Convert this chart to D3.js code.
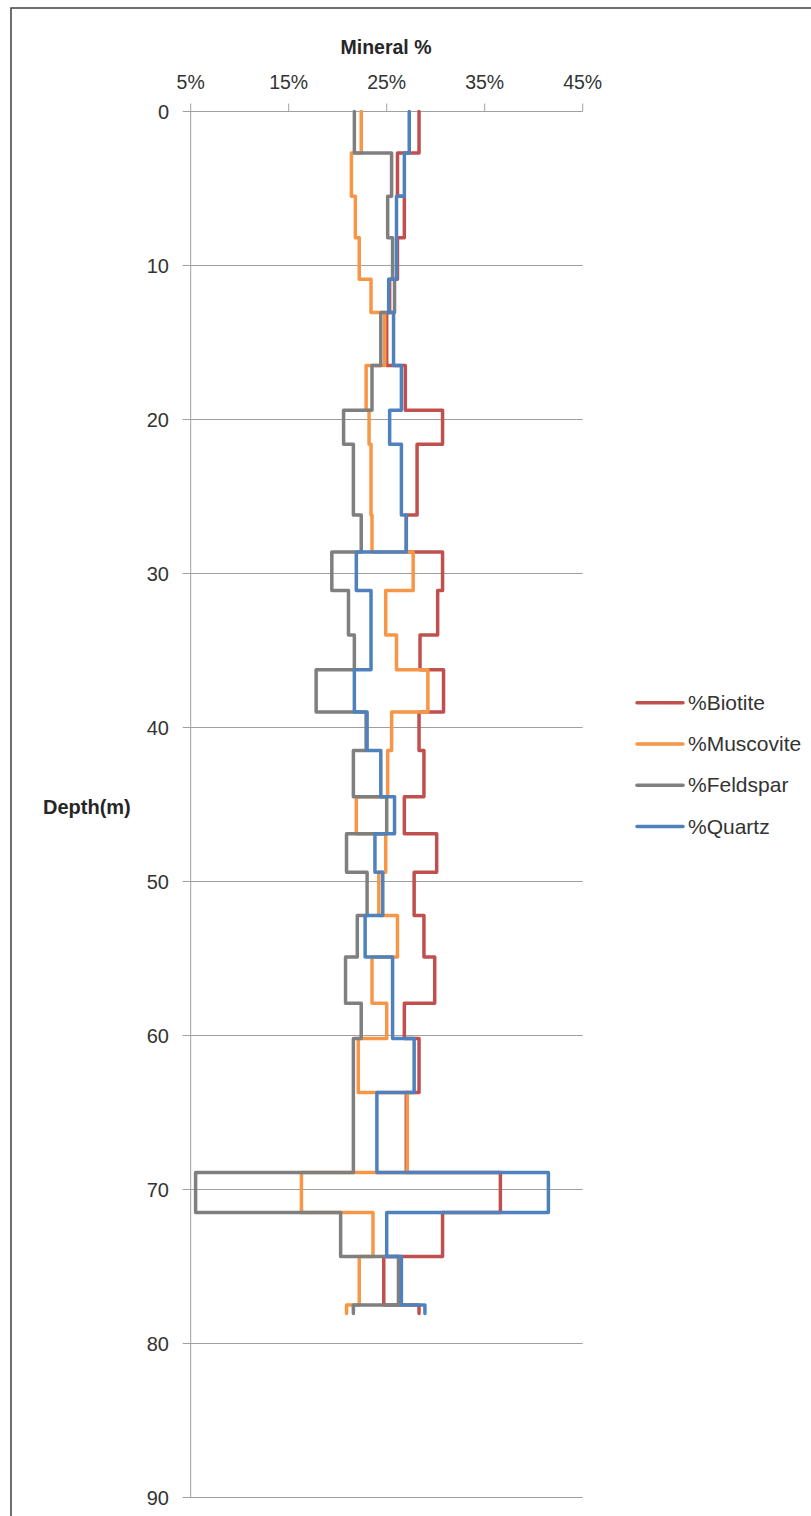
<!DOCTYPE html>
<meta charset="utf-8">
<style>
body { margin: 0; background: #fff; }
text { font-family: "Liberation Sans", Arial, sans-serif; fill: #333; }
.grid line { stroke: #a0a0a0; stroke-width: 1; }
.series path { fill: none; stroke-width: 3.5px; stroke-linejoin: round; stroke-linecap: round; }
</style>
<body>
<svg width="811" height="1516"></svg>
<script src="https://d3js.org/d3.v7.min.js"></script>
<script>

// depth boundaries (m) of each sample interval
var depths = [0, 2.7, 5.5, 8.2, 10.9, 13.05, 16.5, 19.4, 21.6, 26.2, 28.6, 31.1, 34.0, 36.25,
  39.0, 41.5, 44.5, 46.9, 49.4, 52.2, 54.9, 57.9, 60.2, 63.7, 68.9, 71.5, 74.35, 77.5, 78.05];

// % of each mineral in each interval
var biotite = [28.3, 26.1, 26.8, 26.1, 25.3, 25.0, 26.9, 30.7, 28.1, 27.0, 30.7, 30.2, 28.4, 30.8,
  28.3, 28.8, 26.8, 30.1, 27.8, 28.8, 29.9, 26.8, 28.3, 27.0, 36.6, 30.7, 24.7, 28.3];
var muscovite = [22.4, 21.4, 21.8, 22.2, 23.4, 24.8, 22.9, 23.2, 23.4, 23.5, 27.7, 24.9, 26.0, 29.2,
  25.5, 25.1, 21.9, 24.9, 24.2, 26.1, 23.5, 25.0, 22.1, 27.1, 16.3, 23.6, 22.2, 20.9];
var feldspar = [21.7, 25.5, 25.1, 25.6, 25.8, 24.4, 23.5, 20.6, 21.6, 22.4, 19.4, 21.1, 21.7, 17.8,
  22.9, 21.6, 25.0, 20.9, 23.0, 22.0, 20.8, 22.4, 21.6, 21.6, 5.5, 20.3, 26.2, 21.6];
var quartz = [27.3, 26.8, 26.0, 26.0, 25.2, 25.7, 26.5, 25.3, 26.5, 27.0, 21.9, 23.4, 23.4, 21.7,
  23.0, 24.4, 25.8, 23.8, 24.6, 22.8, 25.6, 25.6, 27.8, 24.0, 41.5, 25.0, 26.5, 28.9];

var names = ["%Biotite", "%Muscovite", "%Feldspar", "%Quartz"];
var colors = ["#c0504d", "#f79646", "#7f7f7f", "#4f81bd"];
var xTicks = [5, 15, 25, 35, 45];
var yTicks = [0, 10, 20, 30, 40, 50, 60, 70, 80, 90];

var svg = d3.select("svg");

// chart frame
svg.append("rect")
    .attr("x", 11).attr("y", 8)
    .attr("width", 830).attr("height", 1530)
    .attr("fill", "none")
    .attr("stroke", "#404040")
    .attr("stroke-width", 1.5);

var x = d3.scaleLinear().domain([5, 45]).range([190.7, 582.7]);
var y = d3.scaleLinear().domain([0, 90]).range([111.5, 1497.5]);

// horizontal gridlines (they stick out left of the axis like ticks)
var grid = svg.append("g").attr("class", "grid");
grid.selectAll("line.h")
    .data(yTicks)
    .enter().append("line")
    .attr("x1", x(5) - 8).attr("x2", x(45))
    .attr("y1", function(d) { return y(d); })
    .attr("y2", function(d) { return y(d); });

// left axis line
grid.append("line")
    .attr("x1", x(5)).attr("x2", x(5))
    .attr("y1", y(0)).attr("y2", y(90));

// top ticks
grid.selectAll("line.t")
    .data(xTicks)
    .enter().append("line")
    .attr("x1", function(d) { return x(d); })
    .attr("x2", function(d) { return x(d); })
    .attr("y1", y(0) - 8).attr("y2", y(0));

svg.selectAll("text.xt")
    .data(xTicks)
    .enter().append("text")
    .attr("x", function(d) { return x(d); })
    .attr("y", 89)
    .attr("text-anchor", "middle")
    .style("font-size", "19.5px")
    .text(function(d) { return d + "%"; });

svg.selectAll("text.yt")
    .data(yTicks)
    .enter().append("text")
    .attr("x", 169)
    .attr("y", function(d) { return y(d) + 7; })
    .attr("text-anchor", "end")
    .style("font-size", "20px")
    .text(function(d) { return d; });

svg.append("text")
    .attr("x", 386).attr("y", 54)
    .attr("text-anchor", "middle")
    .style("font-size", "19.5px")
    .style("font-weight", "bold")
    .style("fill", "#262626")
    .text("Mineral %");

svg.append("text")
    .attr("x", 43).attr("y", 814)
    .style("font-size", "20px")
    .style("font-weight", "bold")
    .style("fill", "#262626")
    .text("Depth(m)");

// build step points: each value held over its depth interval
function steps(vals) {
  var pts = [];
  vals.forEach(function(v, i) {
    pts.push([v, depths[i]]);
    pts.push([v, depths[i + 1]]);
  });
  return pts;
}

var line = d3.line()
    .x(function(d) { return x(d[0]); })
    .y(function(d) { return y(d[1]); });

var series = [biotite, muscovite, feldspar, quartz];

svg.append("g").attr("class", "series")
  .selectAll("path")
  .data(series)
  .enter().append("path")
    .attr("stroke", function(d, i) { return colors[i]; })
    .attr("d", function(d) { return line(steps(d)); });

// legend
var legend = svg.append("g")
  .selectAll("g")
  .data(names)
  .enter().append("g")
    .attr("transform", function(d, i) { return "translate(637," + (702.7 + i * 41.3) + ")"; });

legend.append("line")
    .attr("x1", 0).attr("x2", 46)
    .attr("stroke", function(d, i) { return colors[i]; })
    .attr("stroke-width", 3.5)
    .attr("stroke-linecap", "round");

legend.append("text")
    .attr("x", 51).attr("y", 7)
    .style("font-size", "21px")
    .text(function(d) { return d; });

</script>
</body>
